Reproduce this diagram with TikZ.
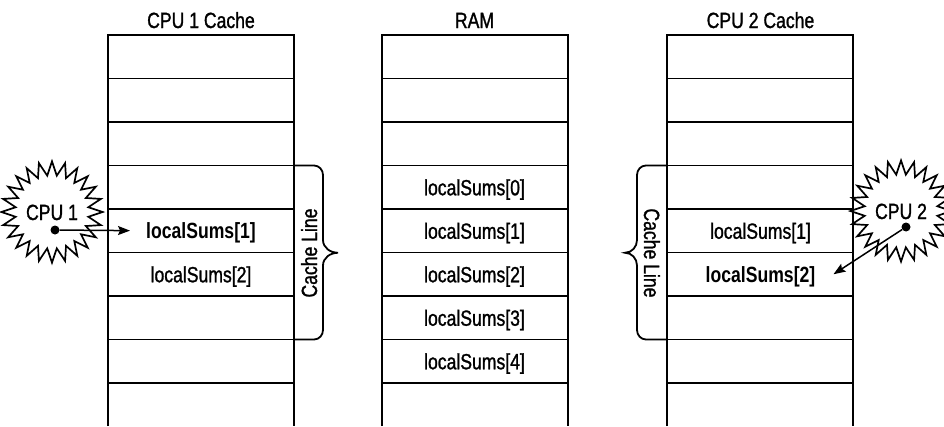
\documentclass[tikz,border=0pt]{standalone}
\usepackage{fontspec}
\setmainfont[FakeStretch=0.8, UprightFeatures={FakeBold=1.2}]{Liberation Sans}
\usetikzlibrary{shapes.geometric,arrows.meta}

\begin{document}
\begin{tikzpicture}[
    x=1pt, y=-1pt,
    txt/.style={font=\fontsize{22}{26}\selectfont, inner sep=2pt,
                text height=16pt, text depth=0pt},
    head/.style={txt},
    cell/.style={txt},
    hot/.style={txt, font=\fontsize{22}{26}\selectfont\bfseries},
    grid/.style={line width=1.8pt},
    cpu/.style={draw, line width=1.7pt, star, star points=24,
                star point ratio=1.38, minimum size=92pt, txt, inner sep=0pt},
    dot/.style={circle, fill, inner sep=0pt, minimum size=9pt},
    brace/.style={line width=1.8pt},
    arrow/.style={-{Stealth[length=12pt,width=9pt,inset=2pt]}, line width=1.5pt}
]
    \useasboundingbox (0,0) rectangle (944,426);

    % the three memory columns
    \foreach \x in {108,382,667} {
        \draw[grid] (\x,426) -- (\x,35) -- (\x+186,35) -- (\x+186,426);
        \foreach \y in {78.5,122,165.5,209,252.5,296,339.5,383}
            \draw[grid] (\x,\y) -- (\x+186,\y);
    }

    \node[head] (h1) at (201,20) {CPU 1 Cache};
    \node[head] (h2) at (474.5,20) {RAM};
    \node[head] (h3) at (760.5,20) {CPU 2 Cache};

    \node[hot] (a1) at (201,230.75) {localSums[1]};
    \node[cell] (a2) at (201,274.25) {localSums[2]};

    \node[cell] (r0) at (474.5,187.25) {localSums[0]};
    \node[cell] (r1) at (474.5,230.75) {localSums[1]};
    \node[cell] (r2) at (474.5,274.25) {localSums[2]};
    \node[cell] (r3) at (474.5,317.75) {localSums[3]};
    \node[cell] (r4) at (474.5,361.25) {localSums[4]};

    \node[cell] (b1) at (760.5,230.75) {localSums[1]};
    \node[hot] (b2) at (760.5,274.25) {localSums[2]};

    % cache line braces
    \draw[brace] (294,165.5) -- (314,165.5) to[out=0,in=90] (323,175)
        -- (323,240) to[out=-90,in=180] (338,252.75) to[out=180,in=90] (323,265.5)
        -- (323,330) to[out=-90,in=0] (314,339.5) -- (294,339.5);
    \node[txt, rotate=90] (cl1) at (309,253) {Cache Line};

    \draw[brace] (667,165.5) -- (646,165.5) to[out=180,in=90] (637,175)
        -- (637,240) to[out=-90,in=0] (625,252.75) to[out=0,in=90] (637,265.5)
        -- (637,330) to[out=-90,in=180] (646,339.5) -- (667,339.5);
    \node[txt, rotate=-90] (cl2) at (652,253) {Cache Line};

    % processors
    \node[cpu] (cpu1) at (52,212) {CPU 1};
    \node[dot] (d1) at (55,230) {};
    \node[cpu, minimum size=86pt] (cpu2) at (901,211) {CPU 2};
    \node[dot] (d2) at (906,227) {};

    \coordinate (tip2) at ([xshift=16pt]b2.east);
    \draw[arrow] (d1) -- (a1.west) [shorten >=14pt];
    \draw[arrow] (d2) -- (tip2);
\end{tikzpicture}
\end{document}
